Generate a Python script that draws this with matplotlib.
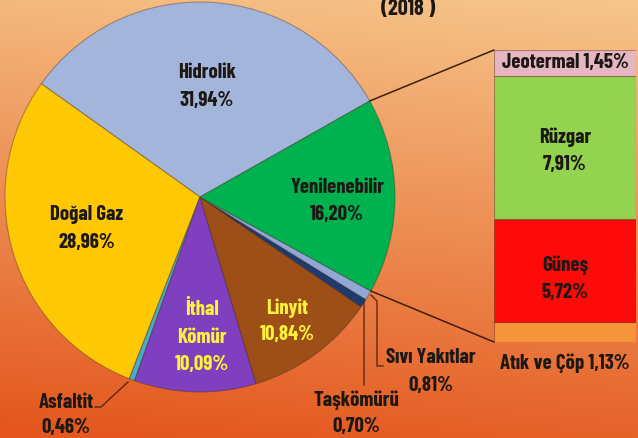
import numpy as np
import matplotlib
matplotlib.use("Agg")
import matplotlib.pyplot as plt
from matplotlib.patches import ConnectionPatch
from matplotlib.colors import to_rgb

plt.rcParams['font.family'] = ['Barlow Condensed', 'DejaVu Sans']
plt.rcParams['font.weight'] = 'bold'

# pasta dilimleri (saat yönü tersine, Hidrolik'ten başlayarak)
pie_names = ['Hidrolik', 'Doğal Gaz', 'Asfaltit', 'İthal Kömür', 'Linyit',
             'Taşkömürü', 'Sıvı Yakıtlar', 'Yenilenebilir']
pie_values = [31.94, 28.96, 0.46, 10.09, 10.84, 0.70, 0.81, 16.20]
pie_colors = ['#A3B5DB', '#FFC805', '#4BACC6', '#7F3FBF', '#9E4F17',
              '#1F3A70', '#8FA8D6', '#00B24F']

# yenilenebilir dağılımı (alttan üste)
bar_names = ['Atık ve Çöp', 'Güneş', 'Rüzgar', 'Jeotermal']
bar_values = [1.13, 5.72, 7.91, 1.45]
bar_colors = ['#F7953A', '#FF0A0A', '#92D350', '#E6B6C2']

W, H = 638, 439
fig = plt.figure(figsize=(W / 100, H / 100), dpi=100)

# arka plan geçişi
bg = fig.add_axes([0, 0, 1, 1])
yy, xx = np.mgrid[0:1:200j, 0:1:200j]
top = np.array(to_rgb('#F6C68B'))
bot = np.array(to_rgb('#E4571E'))
t = np.clip(yy * 0.9 + (1 - xx) * 0.12, 0, 1)[..., None]
img = top * (1 - t) + bot * t
bg.imshow(img, extent=[0, 1, 0, 1], aspect='auto', origin='upper')
bg.set_xlim(0, 1)
bg.set_ylim(0, 1)
bg.axis('off')


def fx(px):
    return px / W


def fy(py):
    return 1 - py / H


# pasta
cx, cy, r = 200, 198, 195
ax = fig.add_axes([fx(cx - r), fy(cy + r), 2 * r / W, 2 * r / H])
ax.pie(pie_values, colors=pie_colors, startangle=29.5, counterclock=True,
       wedgeprops=dict(edgecolor=(0.2, 0.15, 0.1, 0.35), linewidth=0.8))
ax.set_xlim(-1, 1)
ax.set_ylim(-1, 1)
ax.set_aspect('auto')
ax.axis('off')

# çubuk
bx0, bx1, by0, by1 = 494, 636, 51, 343
bax = fig.add_axes([fx(bx0), fy(by1), (bx1 - bx0) / W, (by1 - by0) / H])
bottom = 0
for v, c in zip(bar_values, bar_colors):
    bax.bar(0, v, bottom=bottom, width=1, color=c,
            edgecolor=(0.3, 0.15, 0.1, 0.4), linewidth=0.8)
    bottom += v
bax.set_xlim(-0.5, 0.5)
bax.set_ylim(0, sum(bar_values))
bax.axis('off')

# bağlantı çizgileri
angles = np.cumsum([0] + pie_values) / 100 * 360 + 29.5
a_top = np.deg2rad(angles[-1])
a_bot = np.deg2rad(angles[-2])
for a, yb in [(a_top, 1), (a_bot, 0)]:
    con = ConnectionPatch(xyA=(np.cos(a), np.sin(a)), coordsA=ax.transData,
                          xyB=(0, yb), coordsB=bax.transAxes,
                          color='#3A2010', linewidth=1.1)
    fig.add_artist(con)

# etiketler
dark = '#1E1814'
yel = '#FFF23A'
fs = 15


def lab(x, y, s, color=dark, size=fs):
    fig.text(fx(x), fy(y), s, ha='center', va='center', color=color,
             fontsize=size, fontweight='bold')


lab(408, 9, '(2018 )', size=16)
lab(207, 72, 'Hidrolik')
lab(207, 100, '31,94%')
lab(87, 215, 'Doğal Gaz')
lab(87, 243, '28,96%')
lab(337, 188, 'Yenilenebilir')
lab(337, 215, '16,20%')
lab(202, 310, 'İthal', yel)
lab(202, 338, 'Kömür', yel)
lab(202, 365, '10,09%', yel)
lab(287, 308, 'Linyit', yel)
lab(287, 335, '10,84%', yel)
lab(66, 403, 'Asfaltit')
lab(66, 428, '0,46%')
lab(356, 400, 'Taşkömürü')
lab(356, 427, '0,70%')
lab(431, 358, 'Sıvı Yakıtlar')
lab(431, 386, '0,81%')
lab(565, 63, 'Jeotermal 1,45%')
lab(565, 137, 'Rüzgar')
lab(565, 165, '7,91%')
lab(565, 265, 'Güneş')
lab(565, 293, '5,72%')
lab(565, 363, 'Atık ve Çöp 1,13%')

# kılavuz çizgileri
lc = '#5A2A18'
bg.plot([fx(128), fx(101), fx(95)], [fy(383), fy(408), fy(408)], color=lc, lw=1)
bg.plot([fx(368), fx(364), fx(364)], [fy(295), fy(300), fy(386)], color=lc, lw=1)
bg.plot([fx(371), fx(377), fx(377), fx(383)], [fy(296), fy(302), fy(367), fy(367)],
        color=lc, lw=1)

fig.savefig('out.png', dpi=100)
